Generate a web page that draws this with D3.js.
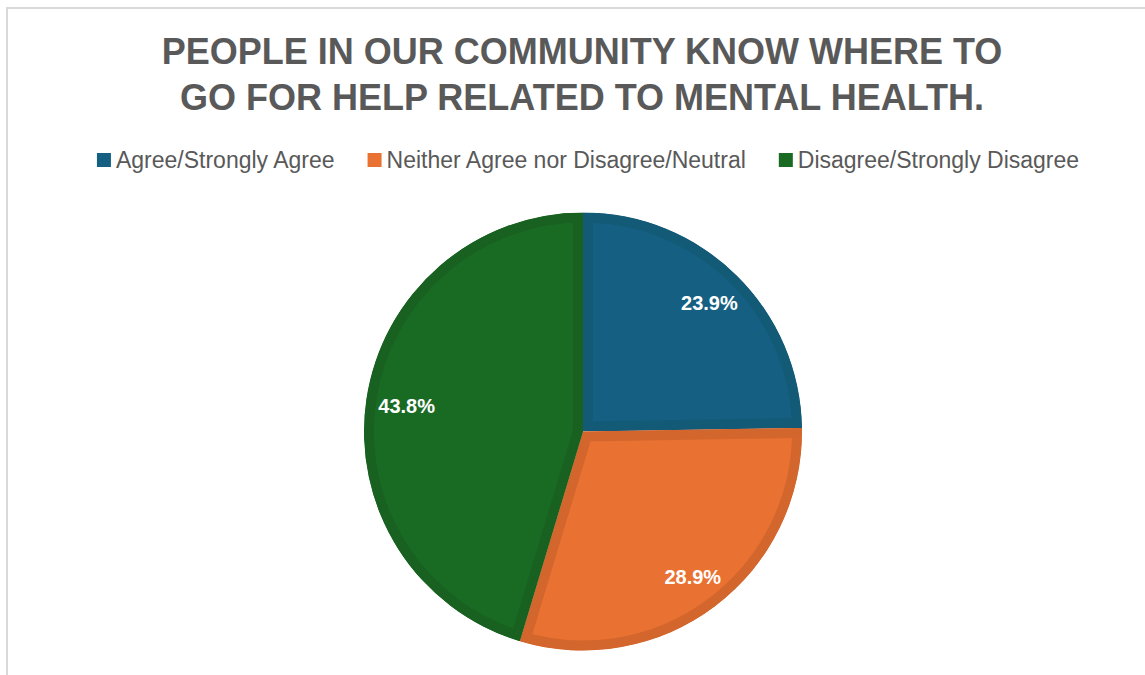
<!DOCTYPE html>
<html>
<head>
<meta charset="utf-8">
<script src="https://cdn.jsdelivr.net/npm/d3@7"></script>
<style>
  html, body { margin: 0; padding: 0; background: #ffffff; }
  svg { display: block; }
</style>
</head>
<body>
<script>
// Survey responses for the statement in the title
const categories = ["Agree/Strongly Agree", "Neither Agree nor Disagree/Neutral", "Disagree/Strongly Disagree"];
const values = [23.9, 28.9, 43.8];
const fillColors = ["#156082", "#E97132", "#196B24"];
const edgeColors = ["#135A77", "#D3662D", "#186121"];
const titleLines = ["PEOPLE IN OUR COMMUNITY KNOW WHERE TO", "GO FOR HELP RELATED TO MENTAL HEALTH."];

const W = 1145, H = 675;
const svg = d3.select("body").append("svg").attr("width", W).attr("height", H);

// chart area frame
svg.append("rect").attr("x", 7).attr("y", 8).attr("width", W).attr("height", H)
  .attr("fill", "#fff").attr("stroke", "#d9d9d9").attr("stroke-width", 2);

// title
svg.append("text")
  .attr("text-anchor", "middle")
  .attr("font-family", "'Liberation Sans', Arial, sans-serif")
  .attr("font-weight", "bold")
  .attr("font-size", 36)
  .attr("fill", "#595959")
  .selectAll("tspan").data(titleLines).join("tspan")
  .attr("x", 582)
  .attr("y", (d, i) => 64 + i * 46)
  .text(d => d);

// legend
const legend = svg.append("g")
  .attr("font-family", "'Liberation Sans', Arial, sans-serif")
  .attr("font-size", 23)
  .attr("fill", "#595959");
const legendItems = legend.selectAll("g").data(categories).join("g");
legendItems.append("rect")
  .attr("width", 14).attr("height", 14).attr("y", 153)
  .attr("fill", (d, i) => fillColors[i]);
legendItems.append("text")
  .attr("x", 19).attr("y", 168)
  .text(d => d);
let lx = 0;
const gap = 33;
const widths = [];
legendItems.each(function () { widths.push(this.getBBox().width); });
const totalW = d3.sum(widths) + gap * (widths.length - 1);
lx = 588 - totalW / 2;
legendItems.each(function (d, i) {
  d3.select(this).attr("transform", `translate(${lx},0)`);
  lx += widths[i] + gap;
});

// pie
const cx = 583, cy = 431.5, R = 219;
const pie = d3.pie().sort(null).value(d => d);
const arcs = pie(values);
const arc = d3.arc().innerRadius(0).outerRadius(R);

const pieG = svg.append("g").attr("transform", `translate(${cx},${cy})`);
const defs = svg.append("defs");
arcs.forEach((a, i) => {
  defs.append("clipPath").attr("id", "slice-clip-" + i)
    .append("path").attr("d", arc(a));
});

pieG.selectAll("path.slice").data(arcs).join("path")
  .attr("class", "slice")
  .attr("d", arc)
  .attr("fill", (d, i) => fillColors[i])
  .attr("stroke", (d, i) => edgeColors[i])
  .attr("stroke-width", 20)
  .attr("stroke-linejoin", "miter")
  .attr("clip-path", (d, i) => `url(#slice-clip-${i})`);

// value labels placed inside each slice, near the rim
const labels = pieG.selectAll("text.val").data(arcs).join("text")
  .attr("class", "val")
  .attr("text-anchor", "middle")
  .attr("dominant-baseline", "central")
  .attr("font-family", "'Liberation Sans', Arial, sans-serif")
  .attr("font-weight", "bold")
  .attr("font-size", 20)
  .attr("fill", "#ffffff")
  .text(d => d.value.toFixed(1) + "%");

labels.each(function (d) {
  const bb = this.getBBox();
  const mid = (d.startAngle + d.endAngle) / 2;
  const sx = Math.sin(mid), cyv = -Math.cos(mid);
  const extent = Math.abs(sx) * bb.width / 2 + Math.abs(cyv) * bb.height / 2;
  const rl = R - 11 - extent;
  d3.select(this).attr("x", sx * rl).attr("y", cyv * rl);
});
</script>
</body>
</html>
